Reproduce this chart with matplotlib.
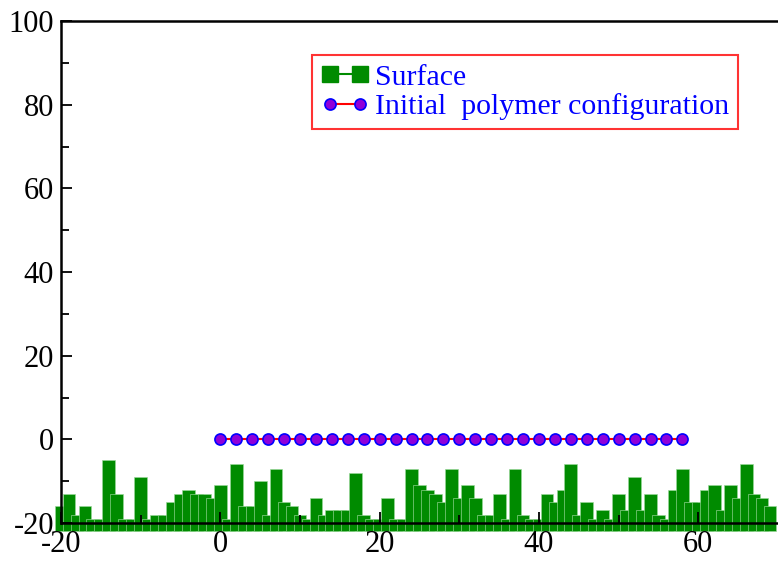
import numpy as np
import matplotlib
matplotlib.use("Agg")
import matplotlib.pyplot as plt
from matplotlib.lines import Line2D

# lattice sites of the rough surface and their heights
surface_x = list(range(-20, 70))
surface_h = [-16, -13, -18, -16, -19, -19, -5, -13, -19, -19,
             -9, -19, -18, -18, -15, -13, -12, -13, -13, -14,
             -11, -19, -6, -16, -16, -10, -18, -7, -15, -16,
             -18, -19, -14, -18, -17, -17, -17, -8, -18, -19,
             -19, -14, -19, -19, -7, -11, -12, -13, -15, -7,
             -14, -11, -14, -18, -18, -13, -19, -7, -18, -19,
             -19, -13, -15, -12, -6, -18, -15, -19, -17, -19,
             -13, -17, -9, -17, -13, -18, -19, -12, -7, -15,
             -15, -12, -11, -17, -11, -14, -6, -13, -14, -16]
surface_base = -21.8

# straight chain laid out above the surface
polymer_x = list(range(0, 60, 2))
polymer_y = [0] * len(polymer_x)

plt.rcParams['font.family'] = ['Liberation Serif', 'DejaVu Serif']
plt.rcParams['axes.unicode_minus'] = False

fig = plt.figure(figsize=(7.78, 5.61), dpi=100)
ax = fig.add_axes([61 / 778, 1 - 523 / 561, 1 - 61 / 778, (523 - 21) / 561])

green = '#008b00'
heights = np.array(surface_h) - surface_base
ax.bar(surface_x, heights, width=1.6, bottom=surface_base, color=green,
       edgecolor='#9ad89a', linewidth=0.45, clip_on=False, zorder=1)

ax.plot(polymer_x, polymer_y, color='red', lw=1.5, marker='o', ms=8,
        mfc='#8f00d8', mec='#0000ff', mew=1.2, zorder=3)

ax.set_xlim(-20, 70)
ax.set_ylim(-20, 100)
ax.set_xticks([-20, 0, 20, 40, 60])
ax.set_xticks(range(-10, 70, 20), minor=True)
ax.set_yticks(range(-20, 101, 20))
ax.set_yticks(range(-10, 100, 20), minor=True)
ax.tick_params(which='both', direction='in', width=1.3, labelsize=22,
               top=False, right=False)
ax.tick_params(which='major', length=8)
ax.tick_params(which='minor', length=6)
ax.tick_params(axis='x', pad=5)
ax.tick_params(axis='y', pad=5)
for side in ['left', 'bottom', 'top']:
    ax.spines[side].set_linewidth(1.8)
    ax.spines[side].set_zorder(4)
ax.spines['right'].set_visible(False)

handles = [
    Line2D([], [], color=green, lw=1.5, marker='s', ms=11, mfc=green, mec=green),
    Line2D([], [], color='red', lw=1.5, marker='o', ms=8, mfc='#8f00d8', mec='#0000ff', mew=1.2),
]
leg = fig.legend(handles, ['Surface', 'Initial  polymer configuration'],
                 loc='upper left', bbox_to_anchor=(312 / 778, 1 - 55 / 561),
                 bbox_transform=fig.transFigure, fontsize=21.5, numpoints=2,
                 handlelength=1.6, handletextpad=0.2, labelspacing=0.08,
                 borderpad=0.3, borderaxespad=0, fancybox=False,
                 labelcolor='#0000ff')
leg.get_frame().set_edgecolor('red')
leg.get_frame().set_linewidth(1.5)

fig.savefig('out.png', dpi=100)
